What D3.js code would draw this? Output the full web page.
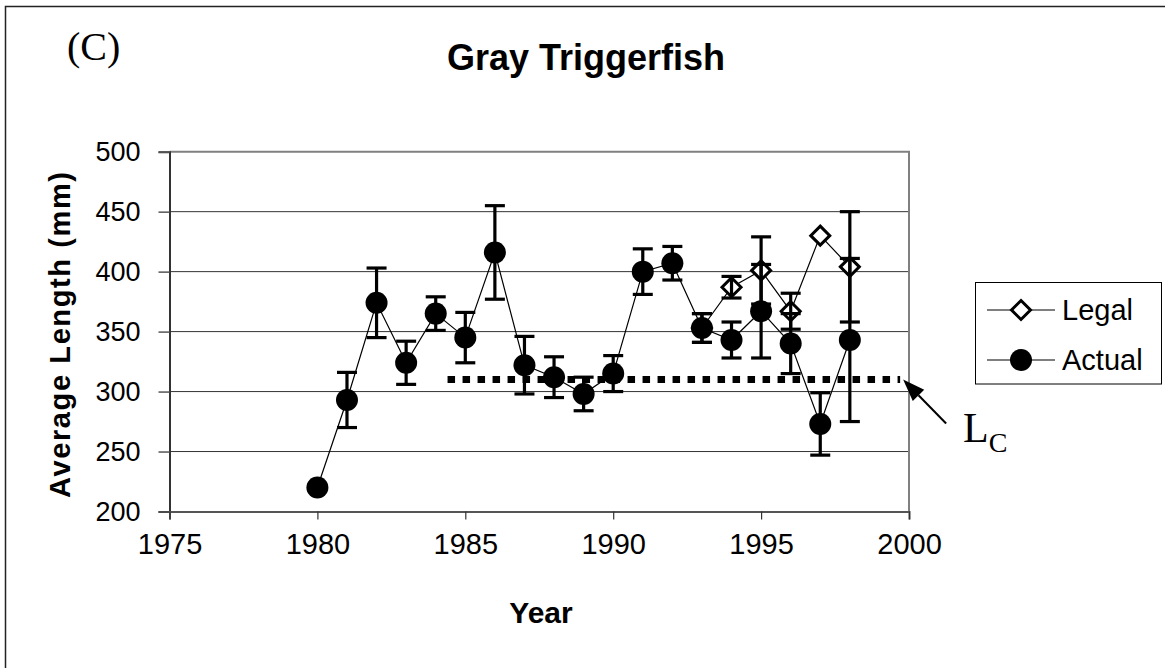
<!DOCTYPE html>
<html>
<head>
<meta charset="utf-8">
<script src="https://cdn.jsdelivr.net/npm/d3@7"></script>
<style>
  html, body { margin: 0; padding: 0; background: #fff; }
  svg { display: block; }
</style>
</head>
<body>
<svg id="chart" width="1165" height="668"></svg>
<script>
// Gray Triggerfish: average length by year, all fish vs. legal-size fish
const years       = [1980,1981,1982,1983,1984,1985,1986,1987,1988,1989,1990,1991,1992,1993,1994,1995,1996,1997,1998];
const actualLen   = [220, 293, 374, 324, 365, 345, 416, 322, 312, 298, 315, 400, 407, 353, 343, 367, 340, 273, 343];
const actualErr   = [null, 23, 29, 18, 14, 21, 39, 24, 17, 14, 15, 19, 14, 12, 15, 39, 25, 26, 68];

const legalYears  = [1993, 1994, 1995, 1996, 1997, 1998];
const legalLen    = [353, 387, 401, 367, 430, 404];
const legalErr    = [12, 9, 28, 15, null, 46];

// length at first capture (L_C) reference line
const lcValue = 310;
const lcFrom  = 1984.4;
const lcTo    = 1999.7;

const xTicks = [1975, 1980, 1985, 1990, 1995, 2000];
const yTicks = [200, 250, 300, 350, 400, 450, 500];

const sans  = "'Liberation Sans', Arial, sans-serif";
const serif = "'Liberation Serif', 'Times New Roman', serif";

const svg = d3.select("#chart");

const x = d3.scaleLinear().domain([1975, 2000]).range([169.5, 909]);
const y = d3.scaleLinear().domain([200, 500]).range([511.5, 151.7]);

// outer frame
svg.append("rect")
  .attr("x", 5.5).attr("y", 6.5)
  .attr("width", 1200).attr("height", 700)
  .attr("fill", "none").attr("stroke", "#222").attr("stroke-width", 1.5);

// panel label and title
svg.append("text").attr("x", 67).attr("y", 60)
  .style("font-family", serif).style("font-size", "40px")
  .text("(C)");

svg.append("text").attr("x", 586).attr("y", 70)
  .attr("text-anchor", "middle")
  .style("font-family", sans).style("font-size", "36px").style("font-weight", "bold")
  .text("Gray Triggerfish");

// gridlines
svg.append("g").selectAll("line").data(yTicks.filter(t => t > 200 && t < 500)).join("line")
  .attr("x1", x(1975)).attr("x2", x(2000))
  .attr("y1", d => y(d)).attr("y2", d => y(d))
  .attr("stroke", "#333").attr("stroke-width", 1);

// plot frame (top and right in gray)
svg.append("path")
  .attr("d", `M${x(1975)},${y(500)}H${x(2000)}V${y(200)}`)
  .attr("fill", "none").attr("stroke", "#808080").attr("stroke-width", 2);

// axes
const yAxis = d3.axisLeft(y).tickValues(yTicks).tickSize(11).tickPadding(18).tickFormat(d3.format("d"));
const gy = svg.append("g").attr("transform", `translate(${x(1975)},0)`).call(yAxis);
gy.select(".domain").attr("stroke", "#333").attr("stroke-width", 2);
gy.selectAll(".tick line").attr("stroke", "#555").attr("stroke-width", 1.5);
gy.selectAll(".tick text")
  .style("font-family", sans).style("font-size", "27px").attr("fill", "#000");

const xAxis = d3.axisBottom(x).tickValues(xTicks).tickSize(8).tickPadding(14).tickFormat(d3.format("d"));
const gx = svg.append("g").attr("transform", `translate(0,${y(200)})`).call(xAxis);
gx.select(".domain").attr("stroke", "#555").attr("stroke-width", 2);
gx.selectAll(".tick line").attr("stroke", "#333").attr("stroke-width", 1.2);
gx.selectAll(".tick text")
  .style("font-family", sans).style("font-size", "29px").attr("fill", "#000");

// axis titles
svg.append("text")
  .attr("transform", `translate(70,335) rotate(-90)`)
  .attr("text-anchor", "middle")
  .style("font-family", sans).style("font-size", "29px").style("font-weight", "bold")
  .attr("textLength", 326).attr("lengthAdjust", "spacing")
  .text("Average Length (mm)");

svg.append("text").attr("x", 541).attr("y", 623)
  .attr("text-anchor", "middle")
  .style("font-family", sans).style("font-size", "30px").style("font-weight", "bold")
  .text("Year");

// series data
const actual = years.map((yr, i) => ({ year: yr, v: actualLen[i], e: actualErr[i] }));
const legal  = legalYears.map((yr, i) => ({ year: yr, v: legalLen[i], e: legalErr[i] }));

const line = d3.line().x(d => x(d.year)).y(d => y(d.v));

// connecting lines
svg.append("path").datum(legal).attr("d", line)
  .attr("fill", "none").attr("stroke", "#000").attr("stroke-width", 1.2);
svg.append("path").datum(actual).attr("d", line)
  .attr("fill", "none").attr("stroke", "#000").attr("stroke-width", 1.2);

// markers
const diamond = d3.symbol().type(d3.symbolDiamond2).size(200);
const diamondPath = (cx, cy, r) => `M${cx},${cy - r}L${cx + r},${cy}L${cx},${cy + r}L${cx - r},${cy}Z`;

svg.append("g").selectAll("path").data(legal).join("path")
  .attr("d", d => diamondPath(x(d.year), y(d.v), 9.5))
  .attr("fill", "#fff").attr("stroke", "#000").attr("stroke-width", 3);

svg.append("g").selectAll("circle").data(actual).join("circle")
  .attr("cx", d => x(d.year)).attr("cy", d => y(d.v)).attr("r", 11)
  .attr("fill", "#000");

// error bars
function errorBars(data) {
  const g = svg.append("g").attr("stroke", "#000").attr("stroke-width", 3.2);
  const withErr = data.filter(d => d.e != null);
  g.selectAll("line.v").data(withErr).join("line").attr("class", "v")
    .attr("x1", d => x(d.year)).attr("x2", d => x(d.year))
    .attr("y1", d => y(d.v + d.e)).attr("y2", d => y(d.v - d.e));
  g.selectAll("line.t").data(withErr).join("line").attr("class", "t")
    .attr("x1", d => x(d.year) - 10).attr("x2", d => x(d.year) + 10)
    .attr("y1", d => y(d.v + d.e)).attr("y2", d => y(d.v + d.e));
  g.selectAll("line.b").data(withErr).join("line").attr("class", "b")
    .attr("x1", d => x(d.year) - 10).attr("x2", d => x(d.year) + 10)
    .attr("y1", d => y(d.v - d.e)).attr("y2", d => y(d.v - d.e));
}
errorBars(legal);
errorBars(actual);

// L_C reference line
svg.append("line")
  .attr("x1", x(lcFrom)).attr("x2", x(lcTo))
  .attr("y1", y(lcValue)).attr("y2", y(lcValue))
  .attr("stroke", "#000").attr("stroke-width", 7).attr("stroke-dasharray", "7.5,7.5");

// arrow pointing at the L_C line
const tipX = x(lcTo) + 3, tipY = y(lcValue);
const tailX = tipX + 43, tailY = tipY + 44;
const ang = Math.atan2(tipY - tailY, tipX - tailX);
const headLen = 22, headHalf = 8;
const bx = tipX - headLen * Math.cos(ang), by = tipY - headLen * Math.sin(ang);
svg.append("line")
  .attr("x1", tailX).attr("y1", tailY).attr("x2", bx).attr("y2", by)
  .attr("stroke", "#000").attr("stroke-width", 2);
svg.append("path")
  .attr("d", `M${tipX},${tipY}L${bx + headHalf * Math.sin(ang)},${by - headHalf * Math.cos(ang)}L${bx - headHalf * Math.sin(ang)},${by + headHalf * Math.cos(ang)}Z`)
  .attr("fill", "#000");

const lc = svg.append("text").attr("x", 963).attr("y", 442)
  .style("font-family", serif).style("font-size", "42px");
lc.append("tspan").text("L");
lc.append("tspan").attr("dy", 10).style("font-size", "28px").text("C");

// legend
const lg = svg.append("g");
lg.append("rect").attr("x", 975.5).attr("y", 282.5).attr("width", 186).attr("height", 101.5)
  .attr("fill", "#fff").attr("stroke", "#000").attr("stroke-width", 1);
const rows = [{ name: "Legal", y: 310 }, { name: "Actual", y: 360 }];
rows.forEach((r, i) => {
  lg.append("line").attr("x1", 987).attr("x2", 1055).attr("y1", r.y).attr("y2", r.y)
    .attr("stroke", "#000").attr("stroke-width", 1.2);
  if (i === 0) {
    lg.append("path").attr("d", diamondPath(1021, r.y, 9.5))
      .attr("fill", "#fff").attr("stroke", "#000").attr("stroke-width", 3);
  } else {
    lg.append("circle").attr("cx", 1021).attr("cy", r.y).attr("r", 11).attr("fill", "#000");
  }
  lg.append("text").attr("x", 1062).attr("y", r.y + 10)
    .style("font-family", sans).style("font-size", "29px")
    .text(r.name);
});
</script>
</body>
</html>
